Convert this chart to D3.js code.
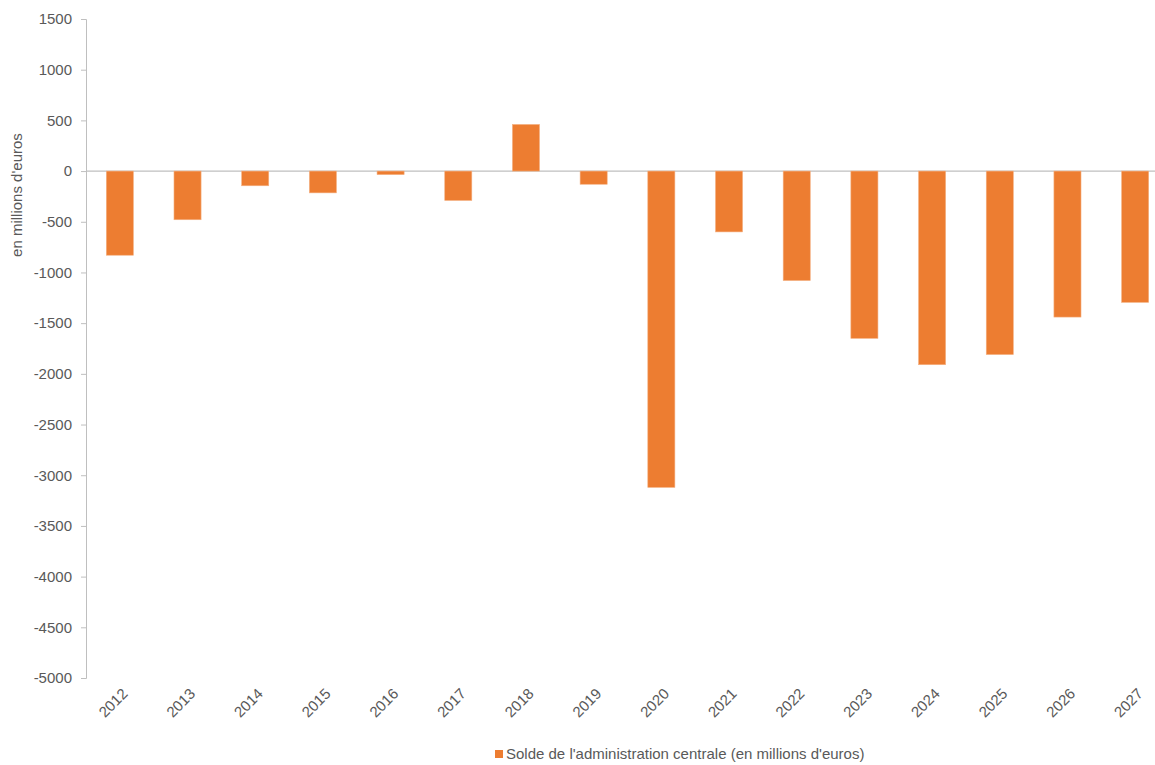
<!DOCTYPE html>
<html>
<head>
<meta charset="utf-8">
<script src="https://cdn.jsdelivr.net/npm/d3@7"></script>
<style>
  body { margin: 0; background: #fff; }
  text { font-family: "Liberation Sans", Arial, sans-serif; fill: #595959; }
</style>
</head>
<body>
<svg id="chart"></svg>
<script>
const years = ["2012", "2013", "2014", "2015", "2016", "2017", "2018", "2019",
  "2020", "2021", "2022", "2023", "2024", "2025", "2026", "2027"];
const solde = [-830, -480, -145, -215, -35, -290, 460, -130,
  -3120, -600, -1080, -1650, -1910, -1810, -1440, -1295];
const yTicks = [1500, 1000, 500, 0, -500, -1000, -1500, -2000, -2500,
  -3000, -3500, -4000, -4500, -5000];
const seriesName = "Solde de l'administration centrale (en millions d'euros)";
const yTitle = "en millions d'euros";

const width = 1155;
const height = 765;
const svg = d3.select("#chart").attr("width", width).attr("height", height);

const plotLeft = 86;
const plotRight = 1169; // plot runs past the right edge of the picture
const plotTop = 19;
const plotBottom = 678;

const x = d3.scaleBand()
  .domain(years)
  .range([plotLeft, plotRight])
  .paddingInner(0.6)
  .paddingOuter(0.3);

const y = d3.scaleLinear()
  .domain([-5000, 1500])
  .range([plotBottom, plotTop]);

// y axis (plain hyphen for negatives, like the original)
const yAxis = svg.append("g")
  .attr("transform", `translate(${plotLeft},0)`)
  .call(d3.axisLeft(y).tickValues(yTicks).tickSize(5).tickPadding(9).tickFormat((d) => String(d)));
yAxis.select(".domain").attr("stroke", "#bfbfbf");
yAxis.selectAll(".tick line").attr("stroke", "#bfbfbf");
yAxis.selectAll(".tick text")
  .style("font-size", "15px")
  .attr("fill", "#595959");

// zero line
svg.append("line")
  .attr("x1", plotLeft)
  .attr("x2", plotRight)
  .attr("y1", y(0))
  .attr("y2", y(0))
  .attr("stroke", "#bfbfbf")
  .attr("stroke-width", 1.2);

// bars
svg.append("g")
  .selectAll("rect")
  .data(solde)
  .enter()
  .append("rect")
  .attr("x", (d, i) => x(years[i]))
  .attr("width", x.bandwidth())
  .attr("y", (d) => y(Math.max(0, d)))
  .attr("height", (d) => Math.abs(y(d) - y(0)))
  .attr("fill", "#ed7d31")
  .attr("stroke", "#f4b183")
  .attr("stroke-width", 0.6);

// x labels, rotated
svg.append("g")
  .selectAll("text")
  .data(years)
  .enter()
  .append("text")
  .attr("transform", (d) => `translate(${x(d) + x.bandwidth() / 2 + 5},${plotBottom + 13}) rotate(-45)`)
  .attr("text-anchor", "end")
  .attr("dy", "0.35em")
  .style("font-size", "15px")
  .text((d) => d);

// y title
svg.append("text")
  .attr("transform", `translate(22,${(plotTop + y(0)) / 2 + 100}) rotate(-90)`)
  .attr("text-anchor", "middle")
  .style("font-size", "15px")
  .text(yTitle);

// legend
const legend = svg.append("g").attr("transform", "translate(495,750)");
legend.append("rect")
  .attr("width", 8)
  .attr("height", 8)
  .attr("fill", "#ed7d31");
legend.append("text")
  .attr("x", 11)
  .attr("y", 4)
  .attr("dy", "0.35em")
  .style("font-size", "15px")
  .text(seriesName);
</script>
</body>
</html>
